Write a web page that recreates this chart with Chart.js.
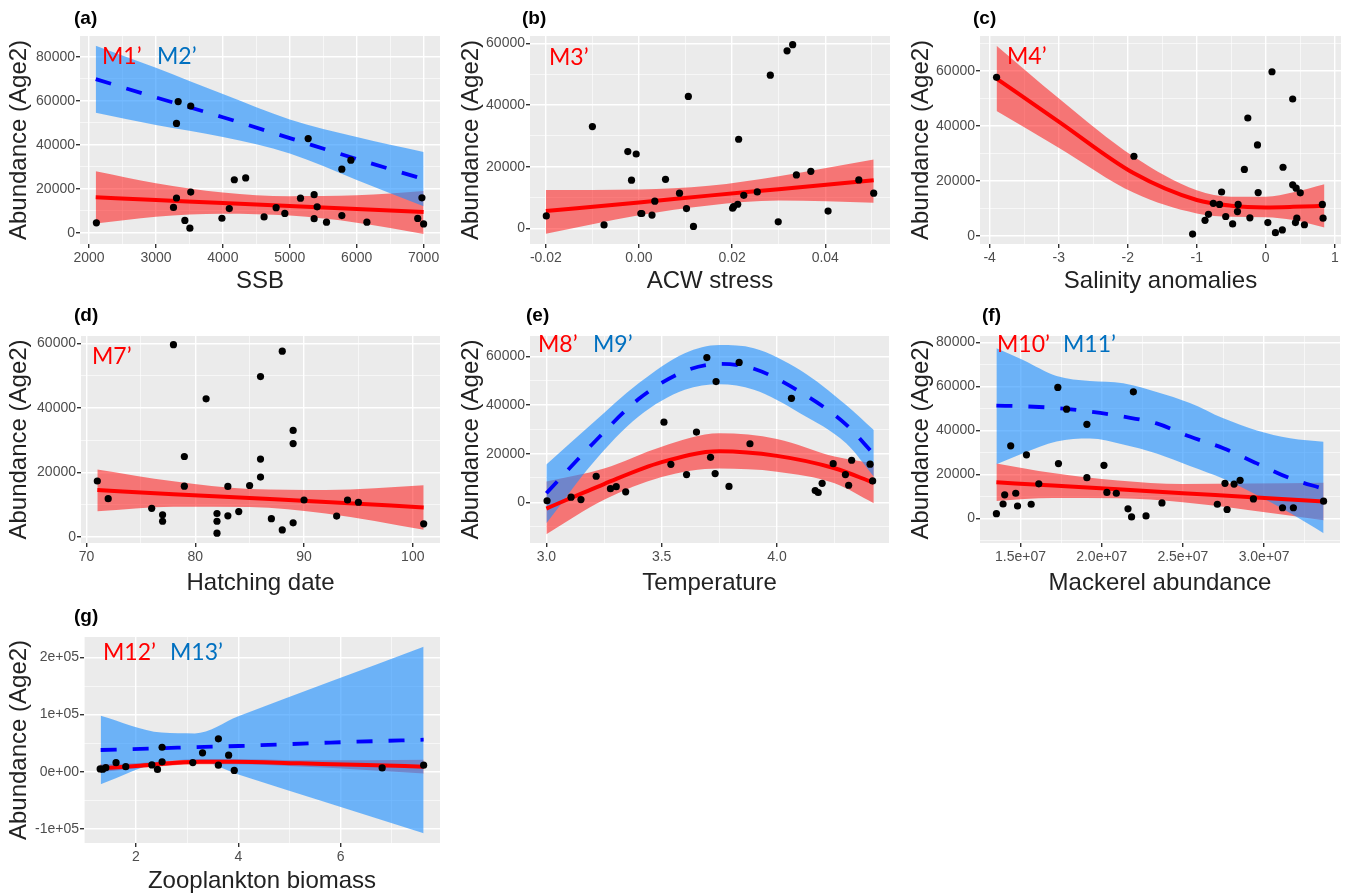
<!DOCTYPE html>
<html>
<head>
<meta charset="utf-8">
<script src="https://cdn.jsdelivr.net/npm/chart.js@4.4.1/dist/chart.umd.min.js"></script>
<style>
    html, body { margin: 0; padding: 0; background: #fff; }
    body { width: 1347px; height: 896px; position: relative; overflow: hidden; }
    .painel { position: absolute; }
</style>
</head>
<body>
<script>
// ---- dados ----
// (a) SSB
const ssbX = [2110, 3262, 3307, 3332, 3307, 3520, 3432, 3507, 3520, 3986, 4096, 4171, 4341, 4616, 4796, 4926, 5160, 5275, 5364, 5364, 5409, 5549, 5778, 5778, 5913, 6152, 6912, 6975, 7000];
const ssbY = [4500, 11500, 15800, 59600, 49700, 57600, 5600, 2100, 18500, 6600, 11000, 24100, 24900, 7200, 11400, 8800, 15700, 42800, 17300, 6400, 11800, 4800, 28900, 7800, 33000, 4800, 6500, 15900, 4000];
const ssbCurveX = [2100, 3000, 4000, 5000, 6000, 7000];
const ssbRedFit = [16100, 14900, 13500, 12200, 10800, 9400];
const ssbRedHi = [28000, 22500, 18300, 16600, 17000, 19000];
const ssbRedLo = [4200, 7300, 8700, 7800, 4600, -500];
const ssbBlueFit = [69800, 61500, 52500, 43000, 33500, 24400];
const ssbBlueHi = [85000, 75000, 63000, 51500, 43500, 36700];
const ssbBlueLo = [54500, 49000, 43500, 36000, 24000, 12000];

// (b) ACW stress
const acwX = [-0.0199, -0.0100, -0.0075, -0.0024, -0.0016, -0.0006, 0.0004, 0.0006, 0.0028, 0.0034, 0.0057, 0.0087, 0.0102, 0.0106, 0.0117, 0.0201, 0.0203, 0.0212, 0.0214, 0.0225, 0.0254, 0.0282, 0.0299, 0.0318, 0.0330, 0.0338, 0.0369, 0.0406, 0.0472, 0.0504];
const acwY = [4000, 33000, 1100, 24900, 15600, 24100, 4800, 4800, 4300, 8800, 15900, 11400, 6400, 42800, 600, 6500, 7000, 7800, 28900, 10700, 11800, 49700, 2100, 57600, 59600, 17300, 18500, 5600, 15700, 11400];
const acwCurveX = [-0.02, 0, 0.015, 0.03, 0.0504];
const acwRedFit = [5600, 8400, 10600, 12700, 15600];
const acwRedHi = [12400, 12600, 13800, 16900, 22300];
const acwRedLo = [-1800, 4200, 7400, 9000, 8300];

// (c) Salinity anomalies
const salX = [-3.90, -1.91, -1.06, -0.88, -0.83, -0.76, -0.67, -0.64, -0.58, -0.48, -0.41, -0.40, -0.31, -0.26, -0.23, -0.12, -0.11, 0.03, 0.09, 0.14, 0.24, 0.25, 0.39, 0.39, 0.44, 0.43, 0.45, 0.50, 0.56, 0.82, 0.83];
const salY = [57600, 28900, 600, 5600, 7800, 11800, 11400, 15900, 7000, 4300, 8800, 11400, 24100, 42800, 6500, 33000, 15700, 4800, 59600, 1100, 2100, 24900, 49700, 18500, 17300, 4800, 6400, 15600, 4000, 11400, 6400];
const salCurveX = [-3.9, -3, -1.91, -1, -0.5, 0, 0.4, 0.85];
const salRedFit = [57100, 41500, 22700, 13000, 10900, 10300, 10500, 10900];
const salRedHi = [69100, 50000, 28700, 16500, 14200, 14200, 15800, 18700];
const salRedLo = [45300, 32000, 15600, 8100, 6900, 6700, 5700, 3000];

// (d) Hatching date
const hatchX = [71, 72, 76, 77, 77, 78, 79, 79, 81, 82, 82, 82, 83, 83, 84, 85, 86, 86, 86, 87, 88, 88, 89, 89, 89, 90, 93, 94, 95, 101];
const hatchY = [17300, 11800, 8800, 6800, 4800, 59600, 24900, 15700, 42800, 7200, 4800, 1100, 15600, 6500, 7800, 15900, 49700, 24100, 18500, 5600, 57600, 2100, 33000, 28900, 4300, 11400, 6400, 11400, 10700, 4000];
const hatchCurveX = [71, 78, 85, 92, 101];
const hatchRedFit = [14500, 13200, 12000, 10800, 9100];
const hatchRedHi = [20900, 17200, 14800, 14500, 16000];
const hatchRedLo = [7900, 9300, 9200, 7200, 2200];

// (e) Temperature
const tempX = [3.003, 3.107, 3.15, 3.216, 3.278, 3.303, 3.344, 3.51, 3.54, 3.608, 3.651, 3.696, 3.712, 3.732, 3.736, 3.792, 3.836, 3.883, 4.063, 4.166, 4.179, 4.196, 4.244, 4.297, 4.311, 4.324, 4.404, 4.415];
const tempY = [600, 2100, 1100, 10700, 5600, 6400, 4300, 33000, 15600, 11400, 28900, 59600, 18500, 11800, 49700, 6500, 57600, 24100, 42800, 4800, 4000, 7800, 15900, 11400, 7000, 17300, 15700, 8800];
const tempRedX = [3.0, 3.25, 3.5, 3.75, 4.0, 4.25, 4.42];
const tempRedFit = [-2600, 7500, 16500, 21000, 19100, 14000, 8000];
const tempRedHi = [8500, 13900, 22900, 28400, 26100, 18800, 16000];
const tempRedLo = [-13200, 1000, 10400, 13900, 12600, 7800, -400];
const tempBlueX = [3.0, 3.2, 3.4, 3.6, 3.75, 3.9, 4.1, 4.3, 4.42];
const tempBlueFit = [3700, 24000, 42500, 54000, 57000, 55000, 45500, 32000, 19800];
const tempBlueHi = [15500, 32500, 49000, 61400, 64800, 63500, 54500, 40100, 29800];
const tempBlueLo = [-8700, 16000, 35300, 46300, 48600, 46300, 36700, 24300, 10600];

// (f) Mackerel abundance
const mackX = [13.52e6, 13.93e6, 14.03e6, 14.40e6, 14.71e6, 14.82e6, 15.37e6, 15.66e6, 16.13e6, 17.30e6, 17.34e6, 17.84e6, 19.09e6, 19.09e6, 20.14e6, 20.32e6, 20.90e6, 21.62e6, 21.84e6, 21.95e6, 22.73e6, 23.71e6, 27.12e6, 27.59e6, 27.72e6, 28.15e6, 28.52e6, 29.34e6, 31.13e6, 31.80e6, 33.66e6];
const mackY = [2100, 6500, 10700, 33000, 11400, 5600, 28900, 6400, 15700, 59600, 24900, 49700, 18500, 42800, 24100, 11800, 11400, 4300, 600, 57600, 1100, 7000, 6400, 15900, 4000, 15600, 17300, 8800, 4800, 4800, 7800];
const mackRedX = [13.52e6, 17e6, 21e6, 25e6, 29e6, 33.66e6];
const mackRedFit = [16400, 14900, 13200, 11400, 9700, 7600];
const mackRedHi = [25000, 20600, 17200, 15600, 15800, 16200];
const mackRedLo = [7900, 9200, 9100, 7300, 3800, -900];
const mackBlueX = [13.52e6, 15.16e6, 17.22e6, 19.27e6, 21.32e6, 23.38e6, 25.43e6, 27.49e6, 29.55e6, 31.6e6, 33.66e6];
const mackBlueFit = [51300, 51000, 50200, 48600, 46300, 43200, 37200, 31900, 25000, 18200, 13400];
const mackBlueHi = [77400, 72100, 64800, 62500, 61500, 57500, 52500, 45500, 40000, 36500, 34900];
const mackBlueLo = [24600, 29600, 35000, 36300, 33600, 29500, 23800, 18000, 10600, 2400, -6800];

// (g) Zooplankton biomass
const zooX = [1.30, 1.35, 1.41, 1.61, 1.80, 2.31, 2.42, 2.51, 2.51, 3.11, 3.30, 3.61, 3.61, 3.81, 3.92, 6.81, 7.62];
const zooY = [4800, 4300, 7000, 15700, 8800, 11800, 4000, 42800, 17300, 15900, 33000, 57600, 11400, 28900, 2100, 6500, 11400];
const zooRedX = [1.3, 2.08, 3.25, 3.9, 5.2, 6.5, 7.62];
const zooRedFit = [5800, 10500, 17500, 17500, 14600, 11700, 8800];
const zooRedHi = [13000, 15000, 22000, 22000, 20000, 20000, 21000];
const zooRedLo = [-1000, 6500, 13000, 13000, 9000, 3000, -3000];
const zooBlueX = [1.31, 2.5, 3.15, 4.0, 5.8, 7.62];
const zooBlueFit = [38000, 41000, 43000, 45000, 51000, 56000];
const zooBlueHi = [98000, 68500, 67000, 97000, 158000, 219000];
const zooBlueLo = [-22000, 17000, 20500, -5000, -56000, -108000];

// ticks
const ssbTicks = [2000, 3000, 4000, 5000, 6000, 7000];
const ssbTickLabels = ['2000', '3000', '4000', '5000', '6000', '7000'];
const acwTicks = [-0.02, 0, 0.02, 0.04];
const acwTickLabels = ['-0.02', '0.00', '0.02', '0.04'];
const salTicks = [-4, -3, -2, -1, 0, 1];
const salTickLabels = ['-4', '-3', '-2', '-1', '0', '1'];
const hatchTicks = [70, 80, 90, 100];
const hatchTickLabels = ['70', '80', '90', '100'];
const tempTicks = [3.0, 3.5, 4.0];
const tempTickLabels = ['3.0', '3.5', '4.0'];
const mackTicks = [1.5e7, 2.0e7, 2.5e7, 3.0e7];
const mackTickLabels = ['1.5e+07', '2.0e+07', '2.5e+07', '3.0e+07'];
const zooTicks = [2, 4, 6];
const zooTickLabels = ['2', '4', '6'];
const abund60Ticks = [0, 20000, 40000, 60000];
const abund60Labels = ['0', '20000', '40000', '60000'];
const abund80Ticks = [0, 20000, 40000, 60000, 80000];
const abund80Labels = ['0', '20000', '40000', '60000', '80000'];
const zooAbundTicks = [-1e5, 0, 1e5, 2e5];
const zooAbundLabels = ['-1e+05', '0e+00', '1e+05', '2e+05'];

// ---- estilo ----
const paleta = {
    fundo: '#ebebeb',
    vermelho: '#ff0000',
    azul: '#0000ff',
    faixaVermelha: 'rgba(255, 0, 0, 0.5)',
    faixaAzul: 'rgba(30, 144, 255, 0.62)',
    textoAzul: '#0070c0',
    texto: '#222222',
    tick: '#4d4d4d'
};
const FONTE = "'Liberation Sans', Arial, sans-serif";
Chart.defaults.font.family = FONTE;

function pares(xs, ys) {
    return xs.map((x, i) => ({ x: x, y: ys[i] }));
}

function marcas(major, min, max) {
    const passo = major[1] - major[0];
    const todas = [];
    if (major[0] - passo / 2 > min) todas.push({ value: major[0] - passo / 2 });
    major.forEach((v, i) => {
        todas.push({ value: v });
        if (i < major.length - 1) todas.push({ value: (v + major[i + 1]) / 2 });
    });
    const ult = major[major.length - 1] + passo / 2;
    if (ult < max) todas.push({ value: ult });
    return todas;
}

function eixo(ticks, labels, min, max, horizontal, tam, titulo) {
    const achar = v => ticks.findIndex(t => Math.abs(t - v) < 1e-9 * Math.max(1, Math.abs(t)));
    return {
        type: 'linear',
        min: min,
        max: max,
        afterBuildTicks: s => { s.ticks = marcas(ticks, min, max); },
        afterFit: s => { if (horizontal) s.height = tam; else s.width = tam; },
        border: { display: false },
        grid: {
            color: '#ffffff',
            lineWidth: c => (c.tick && achar(c.tick.value) >= 0) ? 1.4 : 0.6,
            tickColor: c => (c.tick && achar(c.tick.value) >= 0) ? '#333333' : 'rgba(0,0,0,0)',
            tickLength: 4,
            drawTicks: true
        },
        ticks: {
            autoSkip: false,
            maxRotation: 0,
            padding: horizontal ? 2 : 1,
            color: paleta.tick,
            font: { size: 14 },
            callback: v => { const i = achar(v); return i >= 0 ? labels[i] : ''; }
        },
        title: {
            display: true,
            text: titulo,
            color: paleta.texto,
            font: { size: 24 },
            padding: horizontal ? { top: 0, bottom: 0 } : { top: 5, bottom: 0 }
        }
    };
}

function painel(cfg) {
    const [bx, by, bw, bh] = cfg.box;
    const [L, T, R, B] = cfg.area;
    const div = document.createElement('div');
    div.className = 'painel';
    div.style.left = bx + 'px';
    div.style.top = by + 'px';
    div.style.width = bw + 'px';
    div.style.height = bh + 'px';
    const cv = document.createElement('canvas');
    div.appendChild(cv);
    document.body.appendChild(div);

    const linha = { pointRadius: 0, pointHoverRadius: 0, cubicInterpolationMode: 'monotone' };
    const ds = [];
    ds.push({ data: pares(cfg.pts[0], cfg.pts[1]), showLine: false, pointRadius: 3.6, pointHoverRadius: 3.6,
        pointBackgroundColor: '#000', pointBorderWidth: 0, order: 0 });
    // vermelho: 1 linha, 2 sup, 3 inf
    const r = cfg.red;
    ds.push(Object.assign({ data: pares(r.x, r.fit), borderColor: paleta.vermelho, borderWidth: 4, fill: false, order: 2 }, linha));
    ds.push(Object.assign({ data: pares(r.x, r.hi), borderWidth: 0, borderColor: 'rgba(0,0,0,0)', backgroundColor: paleta.faixaVermelha, fill: 3, order: 5 }, linha));
    ds.push(Object.assign({ data: pares(r.x, r.lo), borderWidth: 0, borderColor: 'rgba(0,0,0,0)', fill: false, order: 6 }, linha));
    // azul: 4 linha, 5 sup, 6 inf
    if (cfg.blue) {
        const b = cfg.blue;
        ds.push(Object.assign({ data: pares(b.x, b.fit), borderColor: paleta.azul, borderWidth: 3.8, borderDash: [16, 16], fill: false, order: 1 }, linha));
        ds.push(Object.assign({ data: pares(b.x, b.hi), borderWidth: 0, borderColor: 'rgba(0,0,0,0)', backgroundColor: paleta.faixaAzul, fill: 6, order: 3 }, linha));
        ds.push(Object.assign({ data: pares(b.x, b.lo), borderWidth: 0, borderColor: 'rgba(0,0,0,0)', fill: false, order: 4 }, linha));
    }

    const decor = {
        id: 'decor',
        beforeDraw(chart) {
            const a = chart.chartArea, c = chart.ctx;
            c.save();
            c.fillStyle = paleta.fundo;
            c.fillRect(a.left, a.top, a.right - a.left, a.bottom - a.top);
            c.restore();
        },
        afterDatasetsDraw(chart) {
            const c = chart.ctx;
            c.save();
            c.textBaseline = 'middle';
            c.textAlign = 'left';
            c.font = "23px Lato, 'Open Sans', sans-serif";
            cfg.models.forEach(m => {
                c.fillStyle = m[1];
                c.fillText(m[0], m[2] - bx, m[3] - by);
            });
            c.fillStyle = '#000';
            c.font = 'bold 19px ' + FONTE;
            c.fillText(cfg.tag, cfg.tagPos[0] - bx, cfg.tagPos[1] - by);
            c.restore();
        }
    };

    new Chart(cv, {
        type: 'line',
        data: { datasets: ds },
        options: {
            responsive: true,
            maintainAspectRatio: false,
            animation: false,
            layout: { padding: { left: 0, top: T - by, right: bx + bw - R, bottom: 0 } },
            plugins: { legend: { display: false }, tooltip: { enabled: false } },
            scales: {
                x: eixo(cfg.xTicks, cfg.xLabels, cfg.xMin, cfg.xMax, true, by + bh - B, cfg.xTitle),
                y: eixo(cfg.yTicks, cfg.yLabels, cfg.yMin, cfg.yMax, false, L - bx, 'Abundance (Age2)')
            }
        },
        plugins: [decor]
    });
}

const linha1 = [0, 296], linha2 = [290, 308], linha3 = [590, 306];

// (a)
painel({
    box: [0, linha1[0], 452, linha1[1]], area: [80, 36, 440, 244],
    tag: '(a)', tagPos: [74, 19], xTitle: 'SSB',
    xMin: 1865, xMax: 7245, yMin: -5100, yMax: 89400,
    xTicks: ssbTicks, xLabels: ssbTickLabels, yTicks: abund80Ticks, yLabels: abund80Labels,
    pts: [ssbX, ssbY],
    red: { x: ssbCurveX, fit: ssbRedFit, hi: ssbRedHi, lo: ssbRedLo },
    blue: { x: ssbCurveX, fit: ssbBlueFit, hi: ssbBlueHi, lo: ssbBlueLo },
    models: [['M1\u2019', paleta.vermelho, 102, 57], ['M2\u2019', paleta.textoAzul, 157, 57]]
});
// (b)
painel({
    box: [452, linha1[0], 450, linha1[1]], area: [530, 36, 890, 244],
    tag: '(b)', tagPos: [522, 19], xTitle: 'ACW stress',
    xMin: -0.0234, xMax: 0.0539, yMin: -5100, yMax: 62400,
    xTicks: acwTicks, xLabels: acwTickLabels, yTicks: abund60Ticks, yLabels: abund60Labels,
    pts: [acwX, acwY],
    red: { x: acwCurveX, fit: acwRedFit, hi: acwRedHi, lo: acwRedLo },
    models: [['M3\u2019', paleta.vermelho, 549, 58]]
});
// (c)
painel({
    box: [902, linha1[0], 445, linha1[1]], area: [980, 36, 1341, 244],
    tag: '(c)', tagPos: [973, 19], xTitle: 'Salinity anomalies',
    xMin: -4.14, xMax: 1.09, yMin: -3000, yMax: 72600,
    xTicks: salTicks, xLabels: salTickLabels, yTicks: abund60Ticks, yLabels: abund60Labels,
    pts: [salX, salY],
    red: { x: salCurveX, fit: salRedFit, hi: salRedHi, lo: salRedLo },
    models: [['M4\u2019', paleta.vermelho, 1007, 57]]
});
// (d)
painel({
    box: [0, linha2[0], 452, linha2[1]], area: [81, 336, 440, 543],
    tag: '(d)', tagPos: [74, 316], xTitle: 'Hatching date',
    xMin: 69.5, xMax: 102.5, yMin: -1950, yMax: 62300,
    xTicks: hatchTicks, xLabels: hatchTickLabels, yTicks: abund60Ticks, yLabels: abund60Labels,
    pts: [hatchX, hatchY],
    red: { x: hatchCurveX, fit: hatchRedFit, hi: hatchRedHi, lo: hatchRedLo },
    models: [['M7\u2019', paleta.vermelho, 92, 357]]
});
// (e)
painel({
    box: [452, linha2[0], 450, linha2[1]], area: [530, 336, 889, 543],
    tag: '(e)', tagPos: [526, 316], xTitle: 'Temperature',
    xMin: 2.929, xMax: 4.486, yMin: -16800, yMax: 68500,
    xTicks: tempTicks, xLabels: tempTickLabels, yTicks: abund60Ticks, yLabels: abund60Labels,
    pts: [tempX, tempY],
    red: { x: tempRedX, fit: tempRedFit, hi: tempRedHi, lo: tempRedLo },
    blue: { x: tempBlueX, fit: tempBlueFit, hi: tempBlueHi, lo: tempBlueLo },
    models: [['M8\u2019', paleta.vermelho, 538, 345], ['M9\u2019', paleta.textoAzul, 593, 345]]
});
// (f)
painel({
    box: [902, linha2[0], 445, linha2[1]], area: [980, 336, 1340, 543],
    tag: '(f)', tagPos: [982, 316], xTitle: 'Mackerel abundance',
    xMin: 12.51e6, xMax: 34.67e6, yMin: -11250, yMax: 83000,
    xTicks: mackTicks, xLabels: mackTickLabels, yTicks: abund80Ticks, yLabels: abund80Labels,
    pts: [mackX, mackY],
    red: { x: mackRedX, fit: mackRedFit, hi: mackRedHi, lo: mackRedLo },
    blue: { x: mackBlueX, fit: mackBlueFit, hi: mackBlueHi, lo: mackBlueLo },
    models: [['M10\u2019', paleta.vermelho, 997, 345], ['M11\u2019', paleta.textoAzul, 1063, 345]]
});
// (g)
painel({
    box: [0, linha3[0], 452, linha3[1]], area: [84, 637, 440, 843],
    tag: '(g)', tagPos: [74, 617], xTitle: 'Zooplankton biomass',
    xMin: 0.984, xMax: 7.94, yMin: -125000, yMax: 236000,
    xTicks: zooTicks, xLabels: zooTickLabels, yTicks: zooAbundTicks, yLabels: zooAbundLabels,
    pts: [zooX, zooY],
    red: { x: zooRedX, fit: zooRedFit, hi: zooRedHi, lo: zooRedLo },
    blue: { x: zooBlueX, fit: zooBlueFit, hi: zooBlueHi, lo: zooBlueLo },
    models: [['M12\u2019', paleta.vermelho, 103, 653], ['M13\u2019', paleta.textoAzul, 170, 653]]
});
</script>
</body>
</html>
